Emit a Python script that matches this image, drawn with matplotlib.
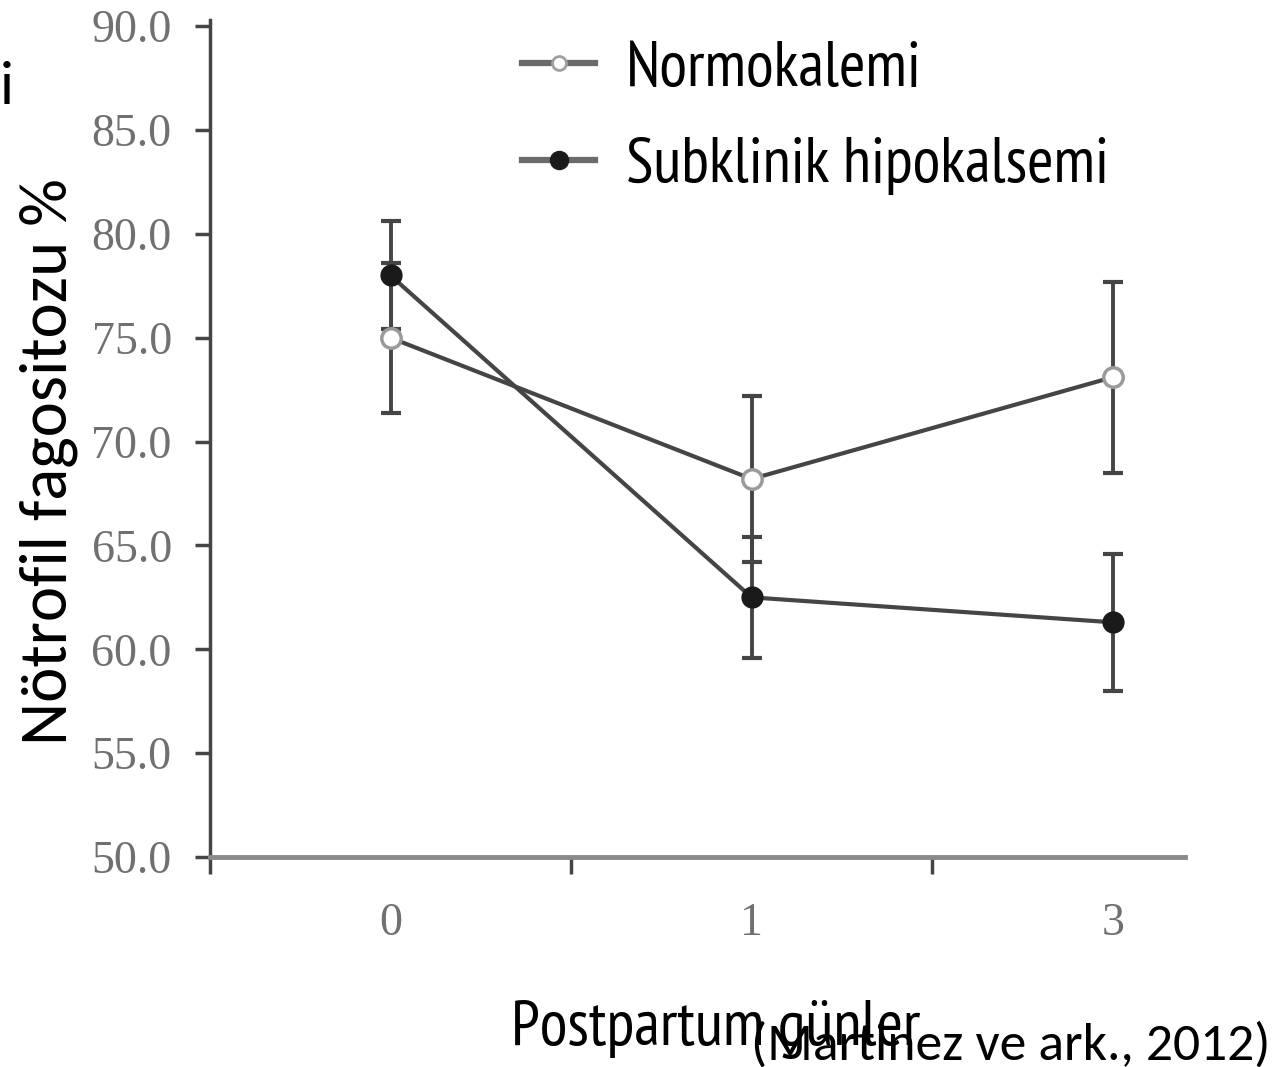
import matplotlib.pyplot as plt
import numpy as np
from matplotlib.lines import Line2D

# data
days = ['0', '1', '3']
normo_mean = [75.0, 68.2, 73.1]
normo_err = [3.6, 4.0, 4.6]
subk_mean = [78.0, 62.5, 61.3]
subk_err = [2.6, 2.9, 3.3]
yticks = [50.0, 55.0, 60.0, 65.0, 70.0, 75.0, 80.0, 85.0, 90.0]
labels = ['Normokalemi', 'Subklinik hipokalsemi']

narrow = ['PT Sans Narrow', 'DejaVu Sans']
serif = ['Liberation Serif', 'DejaVu Serif']
calibri = ['Carlito', 'DejaVu Sans']

fig = plt.figure(figsize=(12.81, 10.67), dpi=100)
ax = fig.add_axes([0.1639, 0.1968, 0.7611, 0.7845])

x = np.arange(len(days))
line_col = '#454545'
tick_col = '#707070'

ax.errorbar(x, normo_mean, yerr=normo_err, fmt='none', ecolor=line_col,
            elinewidth=2.8, capsize=7, capthick=3, zorder=2)
ax.errorbar(x, subk_mean, yerr=subk_err, fmt='none', ecolor=line_col,
            elinewidth=2.8, capsize=7, capthick=3, zorder=2)
ax.plot(x, normo_mean, '-', color=line_col, lw=3, zorder=3)
ax.plot(x, subk_mean, '-', color=line_col, lw=3, zorder=3)
ax.plot(x, normo_mean, 'o', ms=14, mfc='white', mec='#9a9a9a', mew=2.5, zorder=4)
ax.plot(x, subk_mean, 'o', ms=15, mfc='#1a1a1a', mec='#1a1a1a', zorder=4)

ax.set_xlim(-0.5, 2.2)
ax.set_ylim(50, 90.3)

ax.spines['top'].set_visible(False)
ax.spines['right'].set_visible(False)
ax.spines['left'].set_color(line_col)
ax.spines['left'].set_linewidth(2.5)
ax.spines['bottom'].set_color('#8a8a8a')
ax.spines['bottom'].set_linewidth(3.5)

ax.set_yticks(yticks)
ax.set_yticklabels([f'{v:.1f}' for v in yticks], family=serif, fontsize=33, color=tick_col)
ax.tick_params(axis='y', length=11, width=2.5, color=line_col, pad=16.5)

ax.set_xticks([-0.5, 0.5, 1.5])
ax.set_xticklabels([])
ax.set_xticks(x, minor=True)
ax.set_xticklabels(days, minor=True, family=serif, fontsize=33, color=tick_col)
ax.tick_params(axis='x', which='major', length=12, width=2.5, color=line_col)
ax.tick_params(axis='x', which='minor', length=0, pad=33)

fig.text(0.038, 0.567, 'Nötrofil fagositozu %', family=calibri, fontsize=48,
         rotation=90, ha='center', va='center')

handles = [
    Line2D([], [], color='#6a6a6a', lw=4.5, marker='o', ms=10, mfc='white', mec='#a0a0a0', mew=2),
    Line2D([], [], color='#6a6a6a', lw=4.5, marker='o', ms=13, mfc='#1a1a1a', mec='#1a1a1a'),
]
fig.legend(handles, labels, loc='upper left', bbox_to_anchor=(0.4075, 0.962),
           frameon=False, handlelength=1.15, handletextpad=0.47, labelspacing=0.6,
           borderaxespad=0, borderpad=0, prop={'family': narrow, 'size': 46})

fig.text(0.559, 0.021, 'Postpartum günler', family=narrow, fontsize=46, ha='center', va='baseline')
fig.text(0.992, 0.007, '(Martinez ve ark., 2012)', family=calibri, fontsize=38.5,
         ha='right', va='baseline')
fig.text(0.0, 0.918, 'i', family=calibri, fontsize=44, ha='left', va='center')

fig.savefig('out.png', dpi=100)
plt.close(fig)
